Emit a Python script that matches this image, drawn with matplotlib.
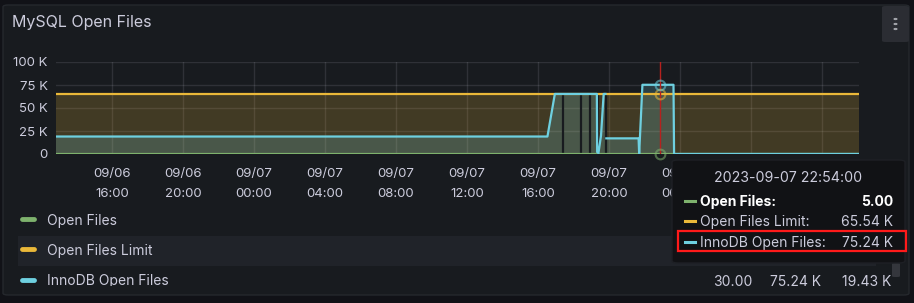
import numpy as np
import pandas as pd
import matplotlib
matplotlib.use("Agg")
import matplotlib.pyplot as plt
from matplotlib.patches import FancyBboxPatch, Rectangle

plt.rcParams['font.family'] = ['Inter', 'DejaVu Sans']

# ---- data ----
t_start = pd.Timestamp("2023-09-06 12:51")
t_end = pd.Timestamp("2023-09-08 10:05")
hover_time = pd.Timestamp("2023-09-07 22:54")

open_files = 5.0
open_files_limit = 65536.0

innodb_times = pd.to_datetime([
    "2023-09-06 12:51", "2023-09-07 16:32", "2023-09-07 16:57", "2023-09-07 19:19",
    "2023-09-07 19:20", "2023-09-07 19:22", "2023-09-07 19:24", "2023-09-07 19:33",
    "2023-09-07 19:42", "2023-09-07 19:48", "2023-09-07 19:49", "2023-09-07 19:51",
    "2023-09-07 21:40", "2023-09-07 21:42", "2023-09-07 21:53", "2023-09-07 23:38",
    "2023-09-07 23:40", "2023-09-08 10:05",
])
innodb_values = [19000, 19000, 65300, 65300,
                 2500, np.nan, 200, 20000,
                 65300, 65300, np.nan, 17000,
                 17000, 300, 75240, 75240,
                 30, 30]

# scrape gaps (no fill)
gap_times = pd.to_datetime(["2023-09-07 17:26", "2023-09-07 18:25", "2023-09-07 18:57",
                            "2023-09-07 19:22", "2023-09-07 19:49"])

series_names = ["Open Files", "Open Files Limit", "InnoDB Open Files"]
series_colors = ["#7EB26D", "#EAB839", "#6ED0E0"]
hover_values = ["5.00", "65.54 K", "75.24 K"]
innodb_stats = ["30.00", "75.24 K", "19.43 K"]

yticks = [0, 25000, 50000, 75000, 100000]
ytick_labels = ["0", "25 K", "50 K", "75 K", "100 K"]
xticks = pd.date_range("2023-09-06 16:00", "2023-09-08 08:00", freq="4h")
last_labelled = pd.Timestamp("2023-09-08 00:00")  # later labels sit under the tooltip

# ---- styling ----
W, H = 914, 303
page_bg = "#111217"
panel_bg = "#181b1f"
text_col = "#ccccdc"


def fx(x):
    return x / W


def fy(y):
    return 1 - y / H


fig = plt.figure(figsize=(W / 100, H / 100), dpi=100)
fig.patch.set_facecolor(page_bg)

panel = FancyBboxPatch((fx(3), fy(295)), fx(906), 290 / H,
                       boxstyle="round,pad=0,rounding_size=0.006",
                       transform=fig.transFigure, facecolor=panel_bg,
                       edgecolor="#25282d", lw=1, zorder=-10)
fig.patches.append(panel)

# menu button
btn = FancyBboxPatch((fx(882), fy(42)), fx(27), 36 / H,
                     boxstyle="round,pad=0,rounding_size=0.004",
                     transform=fig.transFigure, facecolor="#2b2d33",
                     edgecolor="none", zorder=-9)
fig.patches.append(btn)
for dy in [19, 24, 29]:
    fig.patches.append(plt.Circle((fx(895.5), fy(dy)), 1.3 / W, transform=fig.transFigure,
                                  color="#a0a2a8", zorder=-8))

fig.text(fx(12), fy(22), "MySQL Open Files", color=text_col, fontsize=11.5,
         va="center", ha="left")

ax = fig.add_axes([fx(56), fy(154), 803 / W, 92 / H])
ax.patch.set_alpha(0)
ax.set_xlim(t_start, t_end)
ax.set_ylim(0, 100000)

# fills
ax.fill_between([t_start, t_end], 0, open_files_limit, color=series_colors[1], alpha=0.2,
                lw=0, zorder=1)
ax.fill_between(innodb_times, 0, innodb_values, color=series_colors[2], alpha=0.2,
                lw=0, zorder=1.1)
ax.vlines(gap_times, 300, open_files_limit, colors=panel_bg, lw=1.6, zorder=1.5)

# lines
ax.plot([t_start, t_end], [open_files, open_files], color=series_colors[0], lw=1.6, zorder=2)
ax.plot([t_start, t_end], [open_files_limit, open_files_limit], color=series_colors[1],
        lw=1.6, zorder=2.1)
ax.plot(innodb_times, innodb_values, color=series_colors[2], lw=1.6, zorder=2.2)

# hover
ax.axvline(hover_time, color="#b5211e", lw=1, zorder=3)
for v, c in zip([open_files, open_files_limit, 75240], series_colors):
    ax.plot([hover_time], [v], "o", mfc="none", mec=c, mew=1.5, ms=7, alpha=0.55,
            zorder=3.1, clip_on=False)

ax.set_yticks(yticks)
ax.set_yticklabels(ytick_labels)
ax.set_xticks(xticks)
ax.set_xticklabels([t.strftime("%m/%d\n%H:%M") if t <= last_labelled else "" for t in xticks],
                   linespacing=1.9)
ax.tick_params(axis="both", length=0, colors=text_col, labelsize=9.5)
ax.tick_params(axis="x", pad=10)
ax.tick_params(axis="y", pad=6)
for s in ax.spines.values():
    s.set_visible(False)
ax.set_axisbelow(True)
ax.grid(True, color="#ccccdc", alpha=0.13, lw=1)

# legend
fig.patches.append(Rectangle((fx(18), fy(266)), fx(858), 30 / H, transform=fig.transFigure,
                             facecolor="#202329", edgecolor="none", zorder=-5))
clip = Rectangle((fx(3), fy(286)), fx(906), 90 / H, transform=fig.transFigure)
for i, (name, c) in enumerate(zip(series_names, series_colors)):
    yy = [219, 249, 280][i]
    fig.lines.append(plt.Line2D([fx(22), fx(34)], [fy(yy), fy(yy)], transform=fig.transFigure,
                                color=c, lw=3.5, solid_capstyle="round", zorder=1))
    t = fig.text(fx(47), fy(yy + 1.5), name, color=text_col, fontsize=10, va="center", ha="left")
    t.set_clip_path(clip)
for val, xr in zip(innodb_stats, [752, 821, 891]):
    t = fig.text(fx(xr), fy(281.5), val, color=text_col, fontsize=10, va="center", ha="right")
    t.set_clip_path(clip)

# scrollbar
fig.patches.append(FancyBboxPatch((fx(892), fy(277)), fx(8), 14 / H,
                                  boxstyle="round,pad=0,rounding_size=0.003",
                                  transform=fig.transFigure, facecolor="#34363c",
                                  edgecolor="none", zorder=2))

# tooltip
tip = FancyBboxPatch((fx(672), fy(263)), fx(233), 103 / H,
                     boxstyle="round,pad=0,rounding_size=0.007",
                     transform=fig.transFigure, facecolor="#111215",
                     edgecolor="#1e2025", lw=1, zorder=5)
fig.patches.append(tip)
fig.text(fx(788), fy(178), hover_time.strftime("%Y-%m-%d %H:%M:%S"), color=text_col,
         fontsize=10.2, ha="center", va="center", zorder=6)
for i, (name, c, v) in enumerate(zip(series_names, series_colors, hover_values)):
    yy = [201, 221, 242][i]
    bold = i == 0
    col = "#ffffff" if bold else text_col
    fig.lines.append(plt.Line2D([fx(685), fx(695)], [fy(yy), fy(yy)], transform=fig.transFigure,
                                color=c, lw=2.2, zorder=6))
    fig.text(fx(700), fy(yy + 1), name + ":", color=col, fontsize=10, ha="left", va="center",
             fontweight="bold" if bold else "normal", zorder=6)
    fig.text(fx(893), fy(yy + 1), v, color=col, fontsize=10, ha="right", va="center",
             fontweight="bold" if bold else "normal", zorder=6)

# red highlight box
fig.patches.append(Rectangle((fx(678), fy(251)), fx(228), 20 / H, transform=fig.transFigure,
                             facecolor="none", edgecolor="#ff1a1a", lw=1.6, zorder=7))

fig.savefig("out.png", dpi=100, facecolor=fig.get_facecolor())
